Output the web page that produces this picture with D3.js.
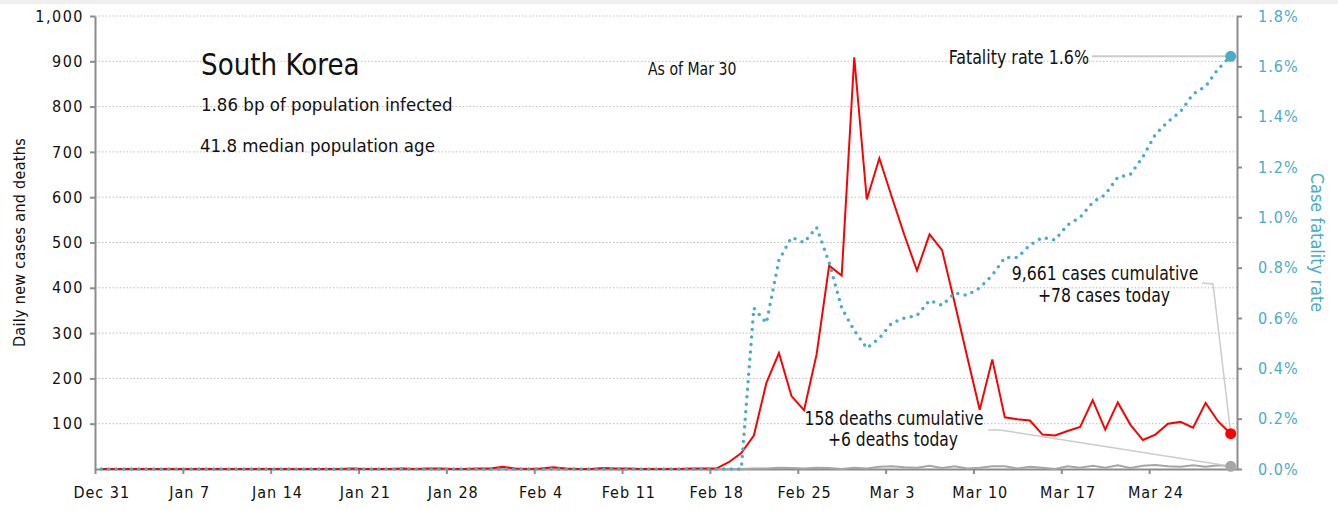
<!DOCTYPE html>
<html><head><meta charset="utf-8">
<script src="https://cdn.jsdelivr.net/npm/d3@7"></script>
<style>
html,body{margin:0;padding:0;background:#fff;}
svg{display:block;}
text{font-family:'DejaVu Sans Condensed','Liberation Sans Narrow',sans-serif;}
</style></head><body>
<svg id="chart" width="1338" height="510"></svg>
<script>
// ---- DATA ----
const firstDay = new Date(Date.UTC(2019, 11, 31));
const endDay = new Date(Date.UTC(2020, 2, 31));
const dates = d3.utcDay.range(firstDay, endDay); // Dec 31 .. Mar 30 (91 days)

const dailyCases = [
  0,0,0,0,0,0,0,0,0,0, 0,0,0,0,0,0,0,0,0,0,      // Dec 31 - Jan 19
  1,0,0,0,1,0,1,1,0,0, 1,1,                      // Jan 20 - Jan 31
  5,1,0,1,4,1,0,0,2,1, 1,0,0,0,0,1,1,1,          // Feb 1 - Feb 18
  15,35,74,190,256,161,130,253,449,427,909,      // Feb 19 - Feb 29
  595,686,600,516,438,518,483,367,248,131,       // Mar 1 - Mar 10
  242,114,110,107,76,74,84,93,152,87,            // Mar 11 - Mar 20
  147,98,64,76,100,104,91,146,105,78             // Mar 21 - Mar 30
];
const dailyDeaths = [
  0,0,0,0,0,0,0,0,0,0, 0,0,0,0,0,0,0,0,0,0,
  0,0,0,0,0,0,0,0,0,0, 0,0,
  0,0,0,0,0,0,0,0,0,0, 0,0,0,0,0,0,0,0,
  0,0,1,1,3,2,1,3,2,0,3,
  1,5,6,4,3,7,2,6,1,3,
  6,6,1,5,3,0,6,3,7,3,
  8,2,7,9,6,5,8,5,8,6
];
const fatalityRate = [
  0,0,0,0,0,0,0,0,0,0, 0,0,0,0,0,0,0,0,0,0,
  0,0,0,0,0,0,0,0,0,0, 0,0,
  0,0,0,0,0,0,0,0,0,0, 0,0,0,0,0,0,0,0,
  0,0,0.64,0.58,0.83,0.92,0.90,0.96,0.82,0.64,0.55,
  0.48,0.52,0.58,0.60,0.61,0.67,0.65,0.70,0.69,0.72,
  0.77,0.84,0.84,0.89,0.92,0.91,0.97,1.00,1.06,1.09,
  1.16,1.17,1.24,1.33,1.38,1.42,1.49,1.52,1.59,1.64
];
const leftTicks = [100,200,300,400,500,600,700,800,900,1000];
const rightTicks = [0,0.2,0.4,0.6,0.8,1.0,1.2,1.4,1.6,1.8];
const xTickDates = d3.utcDay.range(firstDay, endDay, 7);

const titleText = "South Korea";
const subtitle1 = "1.86 bp of population infected";
const subtitle2 = "41.8 median population age";
const asOfText = "As of Mar 30";
const cfrLabel = "Fatality rate 1.6%";
const casesLabel = ["9,661 cases cumulative", "+78 cases today"];
const deathsLabel = ["158 deaths cumulative", "+6 deaths today"];

// ---- CHART ----
const svg = d3.select("#chart");
const W = 1338, H = 510;
const L = 95, R = 1237, T = 16, B = 469;
const CYAN = "#4bacc6", RED = "#ff0000", GREY = "#a6a6a6", AXIS = "#8c8c8c";

svg.append("rect").attr("x",0).attr("y",0).attr("width",W).attr("height",H).attr("fill","#fff");
svg.append("rect").attr("x",0).attr("y",0).attr("width",W).attr("height",4).attr("fill","#eeeeee");

const x = d3.scaleUtc().domain([firstDay, endDay]).range([L, R]);
const px = d => x(d3.utcHour.offset(d, 12));
const yL = d3.scaleLinear().domain([0, 1000]).range([B, T]);
const yR = d3.scaleLinear().domain([0, 1.8]).range([B, T]);

// gridlines
svg.append("g").selectAll("line").data(leftTicks).join("line")
  .attr("x1", L).attr("x2", R).attr("y1", d => yL(d)).attr("y2", d => yL(d))
  .attr("stroke", "#bdbdbd").attr("stroke-width", 1).attr("stroke-dasharray", "1.5 2");

// axes
const gL = svg.append("g").attr("transform", `translate(${L},0)`)
  .call(d3.axisLeft(yL).tickValues(leftTicks).tickSize(5).tickSizeOuter(0).tickPadding(6).tickFormat(d3.format(",")));
const gR = svg.append("g").attr("transform", `translate(${R},0)`)
  .call(d3.axisRight(yR).tickValues(rightTicks).tickSize(5).tickSizeOuter(0).tickPadding(16).tickFormat(d => d.toFixed(1) + "%"));
const gB = svg.append("g").attr("transform", `translate(0,${B})`)
  .call(d3.axisBottom(x).tickValues(xTickDates).tickSize(5).tickSizeOuter(0).tickPadding(13).tickFormat(d3.utcFormat("%b %-d")));
gB.selectAll(".tick text").attr("x", px(firstDay) - L);

[gL, gR, gB].forEach(g => {
  g.select(".domain").attr("stroke", AXIS).attr("stroke-width", 2);
  g.selectAll(".tick line").attr("stroke", AXIS).attr("stroke-width", 2);
  g.selectAll(".tick text").attr("font-size", 16).attr("fill", "#111")
    .attr("font-family", "'DejaVu Sans Condensed','Liberation Sans Narrow',sans-serif").attr("letter-spacing", "1px");
});
gL.selectAll(".tick text").attr("letter-spacing", "1.5px");
gR.selectAll(".tick text").attr("fill", CYAN);

// axis titles
svg.append("text").attr("transform", `translate(25,${(T+B)/2}) rotate(-90)`)
  .attr("text-anchor", "middle").attr("font-size", 16).attr("fill", "#111").attr("letter-spacing","0.3px")
  .text("Daily new cases and deaths");
svg.append("text").attr("transform", `translate(1311,${(T+B)/2}) rotate(90)`)
  .attr("text-anchor", "middle").attr("font-size", 18).attr("fill", CYAN)
  .text("Case fatality rate");

// series
const rows = dates.map((d, i) => ({ d, c: dailyCases[i], k: dailyDeaths[i], r: fatalityRate[i] }));
const last = rows[rows.length - 1];

svg.append("path").datum(rows)
  .attr("d", d3.line().x(r => px(r.d)).y(r => yL(r.k)))
  .attr("fill", "none").attr("stroke", GREY).attr("stroke-width", 2);
svg.append("path").datum(rows)
  .attr("d", d3.line().x(r => px(r.d)).y(r => yL(r.c)))
  .attr("fill", "none").attr("stroke", RED).attr("stroke-width", 2);
svg.append("path").datum(rows)
  .attr("d", d3.line().x(r => px(r.d)).y(r => yR(r.r)))
  .attr("fill", "none").attr("stroke", CYAN).attr("stroke-width", 3.5)
  .attr("stroke-linecap", "round").attr("stroke-dasharray", "0 7.5");

// leader lines
const LEAD = "#cccccc";
svg.append("path").attr("fill","none").attr("stroke",LEAD).attr("stroke-width",2)
  .attr("d", d3.line()([[1092, yR(last.r)], [px(last.d), yR(last.r)]]));
svg.append("path").attr("fill","none").attr("stroke",LEAD).attr("stroke-width",1.5)
  .attr("d", d3.line()([[1202, 283], [1213, 284], [px(last.d), yL(last.c)]]));
svg.append("path").attr("fill","none").attr("stroke",LEAD).attr("stroke-width",1.5)
  .attr("d", d3.line()([[988, 430], [1000, 430], [px(last.d), yL(last.k)]]));

// end markers
svg.append("circle").attr("cx", px(last.d)).attr("cy", yL(last.k)).attr("r", 5.5).attr("fill", GREY);
svg.append("circle").attr("cx", px(last.d)).attr("cy", yL(last.c)).attr("r", 5.5).attr("fill", RED);
svg.append("circle").attr("cx", px(last.d)).attr("cy", yR(last.r)).attr("r", 5.5).attr("fill", CYAN);

// texts (slightly condensed horizontally to mimic the narrow face)
const txt = (s, xx, yy, size, anchor, sx, ls) => svg.append("text")
  .attr("transform", `translate(${xx},${yy}) scale(${sx || 1},1)`)
  .attr("font-size", size).attr("text-anchor", anchor || "start").attr("fill", "#111")
  .attr("letter-spacing", ls || "0px").text(s);
txt(titleText, 201, 75, 31, "start", 0.94);
txt(subtitle1, 201, 111, 18.5, "start", 1);
txt(subtitle2, 200, 152, 18.5, "start", 1);
txt(asOfText, 648, 75, 17, "start", 0.92);
txt(cfrLabel, 1089, 64, 19, "end", 0.93);
txt(casesLabel[0], 1105, 280, 19, "middle", 0.92);
txt(casesLabel[1], 1104, 302, 19, "middle", 0.92);
txt(deathsLabel[0], 894, 425, 19, "middle", 0.91);
txt(deathsLabel[1], 893, 446, 19, "middle", 0.91);
</script>
</body></html>
